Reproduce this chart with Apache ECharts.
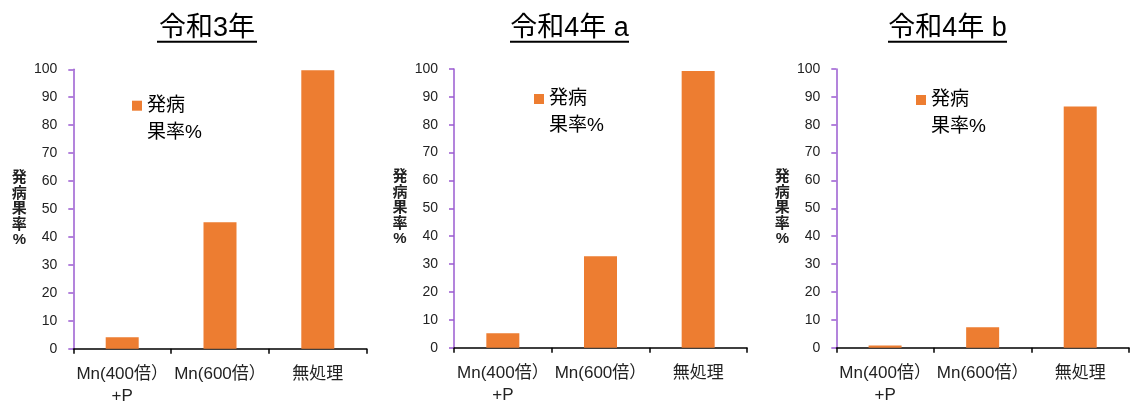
<!DOCTYPE html>
<html><head><meta charset="utf-8">
<script src="https://cdn.jsdelivr.net/npm/echarts@6/dist/echarts.min.js"></script>
<style>html,body{margin:0;padding:0;background:#fff}#c{width:1131px;height:401px}</style>
</head><body><div id="c"></div>
<script>
const categories = ['Mn(400倍）\n+P', 'Mn(600倍）', '無処理'];
const titles = ['令和3年', '令和4年 a', '令和4年 b'];
const values2021 = [4.1, 45.3, 99.7];
const values2022a = [5.2, 32.8, 99.3];
const values2022b = [0.8, 7.3, 86.5];
const yTicks = { min: 0, max: 100, interval: 10 };
const seriesName = '発病\n果率%';
const axisName = '発\n病\n果\n率\n%';

const allValues = [values2021, values2022a, values2022b];
const FONT = '"Liberation Sans", "Noto Sans CJK JP", sans-serif';
const LEG_LH = 27;
const layout = [
  { left: 73.3, top: 69.3, width: 293.4, height: 279.4, titleX: 207, ul: [157, 257], lg: [132, 100.7], nameShift: 0 },
  { left: 454, top: 69, width: 293, height: 278.7, titleX: 569.5, ul: [510, 629], lg: [534, 94], nameShift: 0 },
  { left: 836.3, top: 69, width: 292.7, height: 278.7, titleX: 947.5, ul: [888, 1007], lg: [916, 95], nameShift: 12 }
];

const option = {
  animation: false,
  backgroundColor: '#fff',
  title: layout.map((l, i) => ({
    text: titles[i], left: l.titleX, top: 15, textAlign: 'center', padding: 0,
    textStyle: { fontFamily: FONT, fontSize: 27, fontWeight: 'normal', color: '#000' }
  })),
  graphic: layout.map(l => ({
    type: 'line', shape: { x1: l.ul[0], y1: 41.7, x2: l.ul[1], y2: 41.7 },
    style: { stroke: '#000', lineWidth: 2 }
  })),
  legend: layout.map((l, i) => ({
    seriesIndex: i,
    data: [{ name: seriesName }],
    left: l.lg[0], top: l.lg[1] + 5 - 1.5 * LEG_LH, padding: 0,
    itemWidth: 10, itemHeight: 10, itemGap: 5, icon: 'rect',
    selectedMode: false,
    formatter: name => '\n' + name,
    textStyle: { fontFamily: FONT, fontSize: 19, color: '#000', lineHeight: LEG_LH }
  })),
  grid: layout.map(l => ({ left: l.left, top: l.top, width: l.width, height: l.height, containLabel: false, outerBoundsMode: 'none' })),
  xAxis: layout.map((l, i) => ({
    type: 'category', gridIndex: i, data: categories,
    axisLine: { lineStyle: { color: '#000', width: 1.5 } },
    axisTick: { show: true, length: 5, lineStyle: { color: '#000', width: 1.5 } },
    axisLabel: { fontFamily: FONT, fontSize: 17, color: '#222', margin: 15, lineHeight: 22, interval: 0 }
  })),
  yAxis: layout.map((l, i) => ({
    type: 'value', gridIndex: i, min: yTicks.min, max: yTicks.max, interval: yTicks.interval,
    name: axisName, nameLocation: 'middle', nameRotate: 0, nameGap: 54,
    nameTextStyle: { fontFamily: FONT, fontSize: 15, fontWeight: 'bold', color: '#222', lineHeight: 15.5, align: 'center', verticalAlign: 'middle', padding: [l.nameShift, 0, 0, 0] },
    axisLine: { show: true, lineStyle: { color: '#9a5bd1', width: 1.5 } },
    axisTick: { show: true, length: 5, lineStyle: { color: '#9a5bd1', width: 1.5 } },
    axisLabel: { fontFamily: FONT, fontSize: 14, color: '#222', margin: 16 },
    splitLine: { show: false }
  })),
  series: allValues.map((vals, i) => ({
    type: 'bar', name: seriesName, xAxisIndex: i, yAxisIndex: i,
    data: vals, barWidth: 33,
    itemStyle: { color: '#ED7D31' }
  }))
};
const chart = echarts.init(document.getElementById('c'));
chart.setOption(option);
</script>
</body></html>
